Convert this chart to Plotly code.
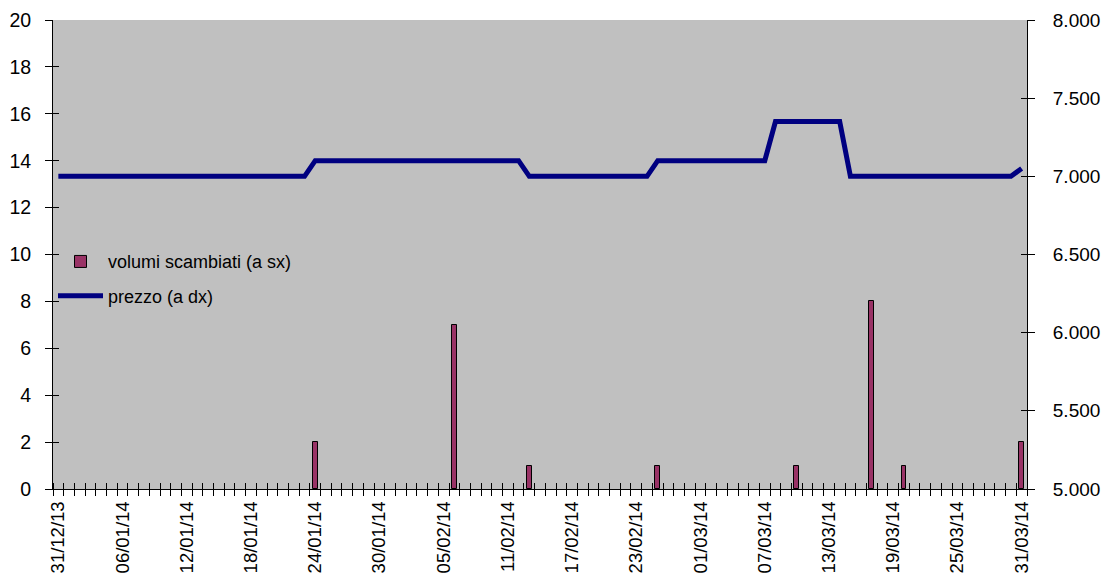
import plotly.graph_objects as go
import pandas as pd

# ---- data ----
start_date = "2013-12-31"
end_date = "2014-03-31"

volume_dates = ["2014-01-24", "2014-02-06", "2014-02-13", "2014-02-25",
                "2014-03-10", "2014-03-17", "2014-03-20", "2014-03-31"]
volume_values = [2, 7, 1, 1, 1, 8, 1, 2]

price_values = [
    7000, 7000, 7000, 7000, 7000, 7000, 7000, 7000, 7000, 7000,
    7000, 7000, 7000, 7000, 7000, 7000, 7000, 7000, 7000, 7000,
    7000, 7000, 7000, 7000, 7100, 7100, 7100, 7100, 7100, 7100,
    7100, 7100, 7100, 7100, 7100, 7100, 7100, 7100, 7100, 7100,
    7100, 7100, 7100, 7100, 7000, 7000, 7000, 7000, 7000, 7000,
    7000, 7000, 7000, 7000, 7000, 7000, 7100, 7100, 7100, 7100,
    7100, 7100, 7100, 7100, 7100, 7100, 7100, 7350, 7350, 7350,
    7350, 7350, 7350, 7350, 7000, 7000, 7000, 7000, 7000, 7000,
    7000, 7000, 7000, 7000, 7000, 7000, 7000, 7000, 7000, 7000,
    7050,
]

tick_dates = ["2013-12-31", "2014-01-06", "2014-01-12", "2014-01-18", "2014-01-24",
              "2014-01-30", "2014-02-05", "2014-02-11", "2014-02-17", "2014-02-23",
              "2014-03-01", "2014-03-07", "2014-03-13", "2014-03-19", "2014-03-25",
              "2014-03-31"]
tick_labels = ["31/12/13", "06/01/14", "12/01/14", "18/01/14", "24/01/14",
               "30/01/14", "05/02/14", "11/02/14", "17/02/14", "23/02/14",
               "01/03/14", "07/03/14", "13/03/14", "19/03/14", "25/03/14",
               "31/03/14"]

left_ticks = [0, 2, 4, 6, 8, 10, 12, 14, 16, 18, 20]
right_ticks = [5000, 5500, 6000, 6500, 7000, 7500, 8000]

# ---- figure ----
price_dates = pd.date_range(start_date, end_date, freq="D")
DAY = 86400000
x_range = [pd.Timestamp(start_date) - pd.Timedelta(hours=12),
           pd.Timestamp(end_date) + pd.Timedelta(hours=12)]
minor_tick0 = pd.Timestamp(start_date) - pd.Timedelta(hours=12)

FONT = "Liberation Sans, Arial, sans-serif"

fig = go.Figure()
fig.add_trace(go.Bar(
    x=pd.to_datetime(volume_dates), y=volume_values,
    name="volumi scambiati (a sx)",
    width=0.45 * DAY,
    marker=dict(color="#993366", line=dict(color="black", width=1)),
    legendgroup="a", yaxis="y",
))
fig.add_trace(go.Scatter(
    x=price_dates, y=price_values, name="prezzo (a dx)",
    mode="lines", line=dict(color="#000080", width=5),
    legendgroup="b", yaxis="y2",
))
# invisible helpers so that the overlay axes (inner half of crossing ticks) are drawn
fig.add_trace(go.Scatter(x=[pd.Timestamp(start_date)], y=[0], xaxis="x2", yaxis="y3",
                         mode="markers", marker=dict(opacity=0), showlegend=False,
                         hoverinfo="skip"))
fig.add_trace(go.Scatter(x=[pd.Timestamp(start_date)], y=[5000], xaxis="x2", yaxis="y4",
                         mode="markers", marker=dict(opacity=0), showlegend=False,
                         hoverinfo="skip"))

common_x = dict(type="date", range=x_range, showgrid=False, zeroline=False,
                automargin=False)
fig.update_layout(
    width=1103, height=577,
    margin=dict(l=53, r=76, t=20, b=88, autoexpand=False),
    paper_bgcolor="white", plot_bgcolor="#C0C0C0",
    separators=",.",
    font=dict(family=FONT, size=19.5, color="black"),
    showlegend=True,
    legend=dict(x=0.0, y=0.524, xanchor="left", yanchor="top",
                bgcolor="rgba(0,0,0,0)", font=dict(size=18),
                traceorder="grouped", tracegroupgap=8, itemwidth=45),
    bargap=0,
    xaxis=dict(**common_x, tickvals=pd.to_datetime(tick_dates), ticktext=tick_labels,
               tickangle=-90, ticks="", showline=True, linecolor="black", linewidth=1,
               tickfont=dict(size=18.5),
               minor=dict(ticks="outside", ticklen=6, tickcolor="black", tickwidth=1,
                          tick0=minor_tick0, dtick=DAY, showgrid=False),
               ticklabelstandoff=4),
    xaxis2=dict(**common_x, overlaying="x", anchor="y", side="bottom",
                showticklabels=False, ticks="", showline=False,
                minor=dict(ticks="inside", ticklen=6, tickcolor="black", tickwidth=1,
                           tick0=minor_tick0, dtick=DAY, showgrid=False)),
    yaxis=dict(range=[0, 20], tickvals=left_ticks, ticks="outside", ticklen=7,
               tickcolor="black", showline=True, linecolor="black", linewidth=1,
               showgrid=False, zeroline=False, ticklabelstandoff=10, automargin=False),
    yaxis2=dict(range=[5000, 8000], tickvals=right_ticks, tickformat=",.0f",
                tickfont=dict(size=19),
                overlaying="y", side="right", anchor="x", ticks="outside", ticklen=7,
                tickcolor="black", showline=True, linecolor="black", linewidth=1,
                showgrid=False, zeroline=False, ticklabelstandoff=14, automargin=False),
    yaxis3=dict(range=[0, 20], tickvals=left_ticks, overlaying="y", side="left",
                anchor="x2", ticks="inside", ticklen=6, tickcolor="black",
                showticklabels=False, showgrid=False, zeroline=False, showline=False),
    yaxis4=dict(range=[5000, 8000], tickvals=right_ticks, overlaying="y", side="right",
                anchor="x2", ticks="inside", ticklen=6, tickcolor="black",
                showticklabels=False, showgrid=False, zeroline=False, showline=False),
)

fig.write_html("out.html")
